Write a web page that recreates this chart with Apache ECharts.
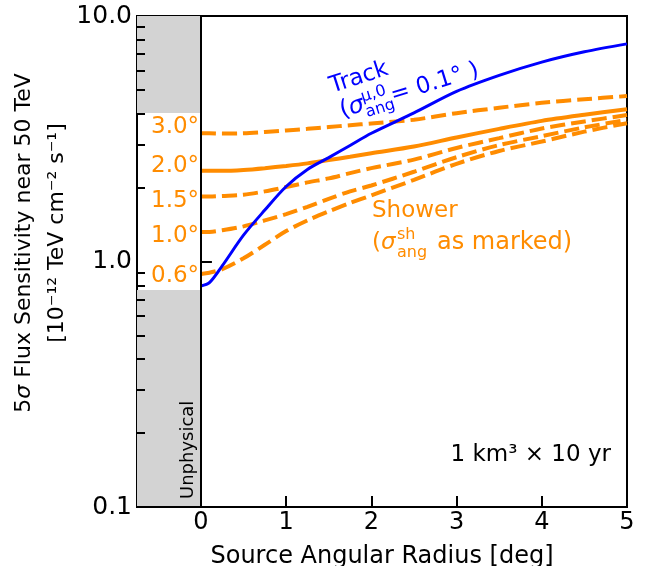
<!DOCTYPE html>
<html>
<head>
<meta charset="utf-8">
<script src="https://cdn.jsdelivr.net/npm/echarts@6/dist/echarts.min.js"></script>
<style>
  html, body { margin: 0; padding: 0; background: #fff; }
  #chart { width: 645px; height: 566px; }
</style>
</head>
<body>
<div id="chart"></div>
<script>
// source angular radius [deg]
const radius = [0, 0.1, 0.25, 0.5, 0.75, 1.0, 1.25, 1.5, 1.75, 2.0, 2.5, 3.0, 3.5, 4.0, 4.5, 5.0]

// 5 sigma flux sensitivity [1e-12 TeV cm^-2 s^-1]
const track = [0.795, 0.82, 0.96, 1.28, 1.62, 2.02, 2.37, 2.65, 2.97, 3.33, 4.03, 4.93, 5.73, 6.49, 7.15, 7.70]
const shower30 = [3.33, 3.33, 3.32, 3.33, 3.37, 3.42, 3.47, 3.53, 3.59, 3.65, 3.78, 4.02, 4.23, 4.43, 4.58, 4.72]
const shower20 = [2.34, 2.34, 2.34, 2.36, 2.40, 2.45, 2.51, 2.59, 2.67, 2.76, 2.94, 3.20, 3.47, 3.74, 3.96, 4.17]
const shower15 = [1.84, 1.84, 1.85, 1.87, 1.93, 2.01, 2.10, 2.18, 2.29, 2.40, 2.60, 2.90, 3.18, 3.48, 3.72, 3.95]
const shower10 = [1.32, 1.32, 1.34, 1.39, 1.47, 1.56, 1.67, 1.80, 1.93, 2.04, 2.32, 2.66, 2.98, 3.24, 3.52, 3.77]
const shower06 = [0.89, 0.90, 0.93, 1.03, 1.17, 1.33, 1.47, 1.60, 1.73, 1.86, 2.15, 2.50, 2.82, 3.08, 3.38, 3.66]

const showerLabels = ['3.0°', '2.0°', '1.5°', '1.0°', '0.6°']
const showerDashed = [true, false, true, true, true]

const xTicks = [0, 1, 2, 3, 4, 5]
const yMajor = [0.1, 1, 10]
const yMinor = [0.2, 0.3, 0.4, 0.5, 0.6, 0.7, 0.8, 0.9, 2, 3, 4, 5, 6, 7, 8, 9]

const ORANGE = '#ff8c00'
const BLUE = '#0000ff'
const FONT = '"DejaVu Sans", sans-serif'

const pairs = ys => radius.map((x, i) => [x, ys[i]])

const chart = echarts.init(document.getElementById('chart'))

const showerSeries = [shower30, shower20, shower15, shower10, shower06].map((ys, i) => ({
  name: showerLabels[i],
  type: 'line',
  data: pairs(ys),
  showSymbol: false,
  smooth: 0.3,
  lineStyle: {
    color: ORANGE,
    width: 4,
    type: showerDashed[i] ? [15, 6] : 'solid'
  },
  z: 2
}))

// label y centres (px) for the shower annotations left of x = 0
const labelY = [127, 166, 201, 236, 276]

const option = {
  animation: false,
  grid: {
    left: 137,
    right: 18,
    top: 16,
    bottom: 59,
    containLabel: false,
    outerBoundsMode: 'none',
    show: true,
    borderColor: '#000',
    borderWidth: 2,
    backgroundColor: 'transparent'
  },
  xAxis: {
    type: 'value',
    min: -0.75,
    max: 5,
    z: 10,
    name: 'Source Angular Radius [deg]',
    nameLocation: 'middle',
    nameGap: 38,
    nameTextStyle: { fontSize: 24, color: '#000', fontFamily: FONT },
    axisLine: { show: true, lineStyle: { color: '#000', width: 2 } },
    axisTick: { show: true, inside: true, length: 11, customValues: xTicks, lineStyle: { color: '#000', width: 2 } },
    axisLabel: { customValues: xTicks, fontSize: 24, color: '#000', fontFamily: FONT, margin: 4 },
    splitLine: { show: false }
  },
  yAxis: [
    {
      type: 'log',
      logBase: 10,
      min: 0.1,
      max: 10,
      z: 10,
      axisLine: { show: true, lineStyle: { color: '#000', width: 2 } },
      axisTick: { show: true, inside: true, length: 11, customValues: yMajor, lineStyle: { color: '#000', width: 2 } },
      axisLabel: {
        customValues: yMajor,
        fontSize: 25,
        color: '#000',
        fontFamily: FONT,
        margin: 5,
        formatter: v => Number(v).toFixed(1)
      },
      splitLine: { show: false }
    },
    {
      type: 'log',
      logBase: 10,
      min: 0.1,
      max: 10,
      z: 10,
      position: 'left',
      axisLine: { show: false },
      axisTick: { show: true, inside: true, length: 8, customValues: yMinor, lineStyle: { color: '#000', width: 2 } },
      axisLabel: { show: false },
      splitLine: { show: false }
    }
  ],
  series: [
    ...showerSeries,
    {
      name: 'Track',
      type: 'line',
      data: pairs(track),
      showSymbol: false,
      smooth: 0.3,
      lineStyle: { color: BLUE, width: 3 },
      z: 3,
      markArea: {
        silent: true,
        itemStyle: { color: '#d3d3d3' },
        data: [
          [{ coord: [-0.75, 4.03] }, { coord: [0, 10] }],
          [{ coord: [-0.75, 0.1] }, { coord: [0, 0.766] }]
        ]
      }
    }
  ],
  graphic: [
    // y-axis title, two lines
    {
      type: 'text',
      x: 24,
      y: 243,
      rotation: Math.PI / 2,
      style: {
        text: '{n|5}{i|σ}{n| Flux Sensitivity near 50 TeV}',
        align: 'center',
        verticalAlign: 'middle',
        fill: '#000',
        rich: {
          n: { fontSize: 22, fontFamily: FONT, fill: '#000' },
          i: { fontSize: 22, fontFamily: FONT, fontStyle: 'italic', fill: '#000' }
        }
      }
    },
    {
      type: 'text',
      x: 57,
      y: 233,
      rotation: Math.PI / 2,
      style: {
        text: '[10⁻¹² TeV cm⁻² s⁻¹]',
        align: 'center',
        verticalAlign: 'middle',
        fill: '#000',
        fontSize: 22,
        fontFamily: FONT
      }
    },
    // shower angle labels
    ...showerLabels.map((t, i) => ({
      type: 'text',
      x: 151,
      y: labelY[i],
      style: { text: t, fill: ORANGE, fontSize: 23, fontFamily: FONT, align: 'left', verticalAlign: 'middle' },
      z: 10
    })),
    // Unphysical
    {
      type: 'text',
      x: 188,
      y: 499,
      rotation: Math.PI / 2,
      style: { text: 'Unphysical', fill: '#000', fontSize: 18, fontFamily: FONT, align: 'left', verticalAlign: 'middle' },
      z: 10
    },
    // Track annotation
    {
      type: 'group',
      x: 334,
      y: 98,
      rotation: 18 * Math.PI / 180,
      children: [
        { type: 'text', x: 0, y: 0, style: { text: 'Track', fill: BLUE, fontSize: 23, fontFamily: FONT, verticalAlign: 'bottom' } }
      ]
    },
    {
      type: 'group',
      x: 344,
      y: 123,
      rotation: 17 * Math.PI / 180,
      children: [
        { type: 'text', x: 0, y: 0, style: { text: '(', fill: BLUE, fontSize: 24, fontFamily: FONT, verticalAlign: 'bottom' } },
        { type: 'text', x: 9, y: 0, style: { text: 'σ', fill: BLUE, fontSize: 24, fontStyle: 'italic', fontFamily: FONT, verticalAlign: 'bottom' } },
        { type: 'text', x: 24, y: -11, style: { text: 'μ,0', fill: BLUE, fontSize: 16, fontFamily: FONT, verticalAlign: 'bottom' } },
        { type: 'text', x: 24, y: 5, style: { text: 'ang', fill: BLUE, fontSize: 16, fontFamily: FONT, verticalAlign: 'bottom' } },
        { type: 'text', x: 53, y: 0, style: { text: '= 0.1° )', fill: BLUE, fontSize: 23, fontFamily: FONT, verticalAlign: 'bottom' } }
      ]
    },
    // Shower annotation
    {
      type: 'text',
      x: 372,
      y: 211,
      style: { text: 'Shower', fill: ORANGE, fontSize: 23, fontFamily: FONT, verticalAlign: 'middle' }
    },
    {
      type: 'group',
      x: 372,
      y: 243,
      children: [
        { type: 'text', x: 0, y: 0, style: { text: '(', fill: ORANGE, fontSize: 23, fontFamily: FONT, verticalAlign: 'middle' } },
        { type: 'text', x: 9, y: 0, style: { text: 'σ', fill: ORANGE, fontSize: 23, fontStyle: 'italic', fontFamily: FONT, verticalAlign: 'middle' } },
        { type: 'text', x: 25, y: -8, style: { text: 'sh', fill: ORANGE, fontSize: 16, fontFamily: FONT, verticalAlign: 'middle' } },
        { type: 'text', x: 25, y: 10, style: { text: 'ang', fill: ORANGE, fontSize: 16, fontFamily: FONT, verticalAlign: 'middle' } },
        { type: 'text', x: 65, y: 0, style: { text: 'as marked)', fill: ORANGE, fontSize: 24, fontFamily: FONT, verticalAlign: 'middle' } }
      ]
    },
    // exposure
    {
      type: 'text',
      x: 611,
      y: 455,
      style: { text: '1 km³ × 10 yr', fill: '#000', fontSize: 23, fontFamily: FONT, align: 'right', verticalAlign: 'middle' }
    }
  ]
}

chart.setOption(option)
</script>
</body>
</html>
